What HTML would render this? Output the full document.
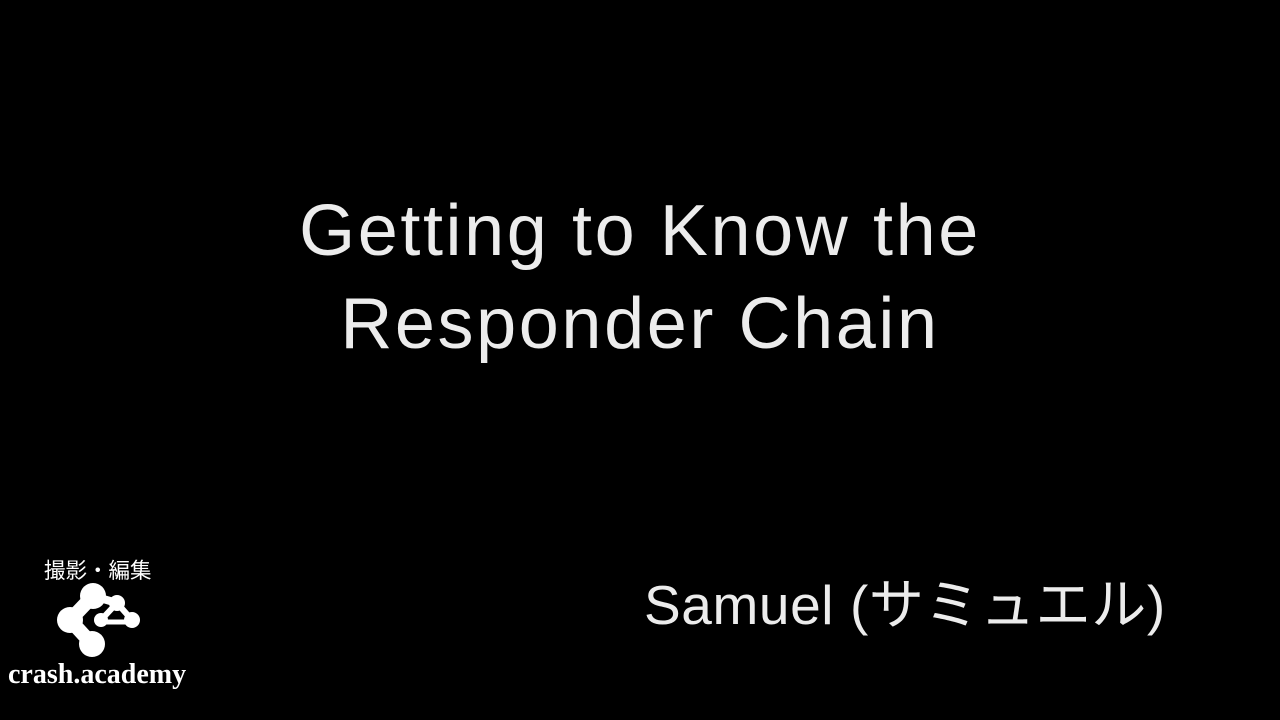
<!DOCTYPE html>
<html><head><meta charset="utf-8"><style>
html,body{margin:0;padding:0;background:#000;}
body{width:1280px;height:720px;position:relative;overflow:hidden;font-family:"Liberation Sans","Noto Sans CJK JP",sans-serif;color:#ececec;}
.t{position:absolute;left:0;width:1280px;text-align:center;font-size:72px;line-height:1;white-space:nowrap;letter-spacing:2.6px;}
.s{position:absolute;left:644px;top:578px;font-size:55px;line-height:1;white-space:nowrap;letter-spacing:0.6px;}
.j{position:absolute;left:44px;top:559px;font-size:21.5px;color:#fff;font-family:"Noto Sans CJK JP",sans-serif;line-height:1;}
.c{position:absolute;left:8px;top:661px;font-size:28px;font-weight:bold;color:#fff;font-family:"Liberation Serif",serif;line-height:1;}
</style></head><body>
<div class="t" style="top:195px;">Getting to Know the</div>
<div class="t" style="top:288px;">Responder Chain</div>
<div class="s">Samuel (サミュエル)</div>
<div class="j">撮影・編集</div>
<svg style="position:absolute;left:0;top:0" width="200" height="720">
<g fill="#fff" stroke="#fff">
<circle cx="93" cy="596" r="13" stroke="none"/>
<circle cx="70" cy="620" r="13" stroke="none"/>
<circle cx="92" cy="644" r="13" stroke="none"/>
<circle cx="117" cy="603" r="8" stroke="none"/>
<circle cx="101" cy="620" r="7" stroke="none"/>
<circle cx="132" cy="620" r="8" stroke="none"/>
<line x1="93" y1="596" x2="70" y2="620" stroke-width="14"/>
<line x1="70" y1="620" x2="92" y2="644" stroke-width="14"/>
<line x1="93" y1="596" x2="117" y2="603" stroke-width="8"/>
<line x1="117" y1="603" x2="101" y2="620" stroke-width="6"/>
<line x1="117" y1="603" x2="132" y2="620" stroke-width="6"/>
<line x1="101" y1="622" x2="132" y2="622" stroke-width="5"/>
</g>
</svg>
<div class="c">crash.academy</div>
</body></html>
